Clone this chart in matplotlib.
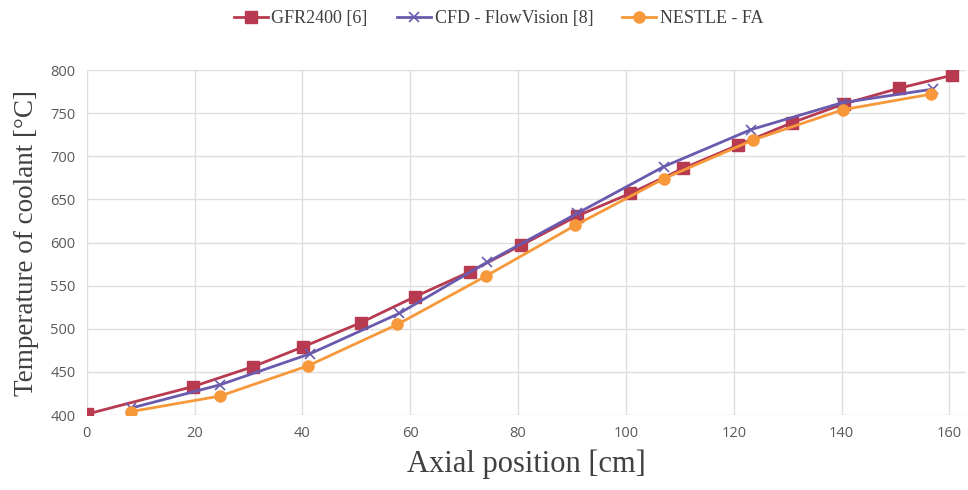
import matplotlib.pyplot as plt

# GFR2400 [6]
gfr_x = [0, 19.7, 30.8, 40.1, 50.8, 60.8, 71, 80.6, 91, 100.8, 110.6, 120.8, 130.8, 140.5, 150.7, 160.5]
gfr_y = [401, 433, 456, 479, 507, 537, 566, 597, 631, 657, 686, 713, 739, 761, 779, 794]

# CFD - FlowVision [8]
cfd_x = [8.2, 24.7, 41.4, 58, 74.2, 91, 107, 123.2, 140, 157]
cfd_y = [408, 435, 471, 518, 577, 634, 688, 731, 762, 778]

# NESTLE - FA
nestle_x = [8.2, 24.7, 41, 57.6, 74, 90.6, 107, 123.6, 140.2, 156.5]
nestle_y = [404, 422, 457, 505, 561, 620, 674, 719, 754, 772]

x_ticks = [0, 20, 40, 60, 80, 100, 120, 140, 160]
y_ticks = [400, 450, 500, 550, 600, 650, 700, 750, 800]

serif = ['Liberation Serif', 'DejaVu Serif']
tick_font = 'Open Sans'

fig = plt.figure(figsize=(9.68, 4.9), dpi=100)
ax = fig.add_axes([0.0896, 0.153, 0.908, 0.704])

ax.plot(gfr_x, gfr_y, color='#B83A50', lw=2, marker='s', ms=8.5,
        label='GFR2400 [6]', zorder=3)
ax.plot(cfd_x, cfd_y, color='#6A5AAE', lw=2, marker='x', ms=7, mew=1.2,
        label='CFD - FlowVision [8]', zorder=4)
ax.plot(nestle_x, nestle_y, color='#F7993A', lw=2, marker='o', ms=8,
        label='NESTLE - FA', zorder=5)

ax.set_xlim(0, 163)
ax.set_ylim(400, 800)
ax.set_xticks(x_ticks)
ax.set_yticks(y_ticks)
ax.grid(True, color='#DEDEDE', lw=1)
ax.set_axisbelow(True)
for s in ax.spines.values():
    s.set_visible(False)
ax.tick_params(length=0, labelsize=10.5, labelcolor='#595959', pad=8)
for lab in ax.get_xticklabels() + ax.get_yticklabels():
    lab.set_family(tick_font)

ax.set_xlabel('Axial position [cm]', family=serif, fontsize=22, color='#404040', labelpad=6)
ax.set_ylabel('Temperature of coolant [°C]', family=serif, fontsize=19.5, color='#404040', labelpad=8)

fig.legend(loc='upper center', bbox_to_anchor=(0.515, 1.012), ncol=3, frameon=False,
           prop={'family': serif, 'size': 13}, labelcolor='#404040',
           handlelength=1.9, handletextpad=0.2, columnspacing=1.6)

fig.savefig('out.png', dpi=100)
